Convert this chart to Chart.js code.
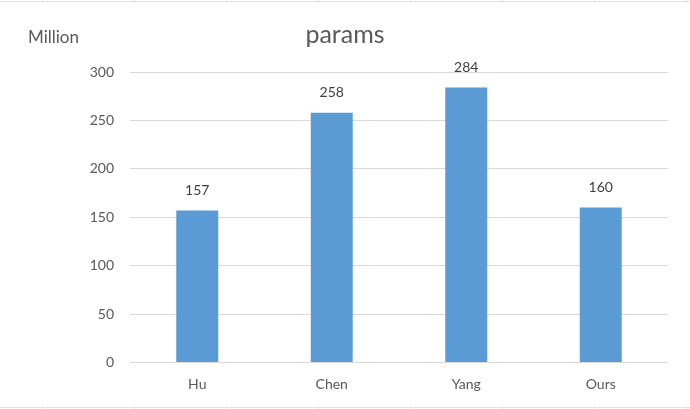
<!DOCTYPE html>
<html>
<head>
<meta charset="utf-8">
<script src="https://cdn.jsdelivr.net/npm/chart.js@4"></script>
<style>
  html,body{margin:0;padding:0;background:#fff;}
  #wrap{width:690px;height:409px;position:relative;}
</style>
</head>
<body>
<div id="wrap"><canvas id="ch_params"></canvas></div>
<script>
// datos del grafico
const categorias = ['Hu', 'Chen', 'Yang', 'Ours'];
const params = [157, 258, 284, 160];
const ticksY = [0, 50, 100, 150, 200, 250, 300];
const titulo = 'params';
const unidad = 'Million';

const FONT = "Lato, 'Open Sans', sans-serif";
const GRIS = '#595959';

// lineas de celdas de la hoja (fondo) + titulo + unidad + etiquetas de datos
const extras = {
  id: 'extras',
  beforeDraw(chart){
    const c = chart.ctx;
    c.save();
    c.strokeStyle = '#e3e3e3';
    c.lineWidth = 1;
    c.beginPath();
    c.moveTo(0, 1.5); c.lineTo(690, 1.5);
    c.moveTo(0, 407.5); c.lineTo(690, 407.5);
    for (let x = 42.5; x < 690; x += 92){
      c.moveTo(x, 0); c.lineTo(x, 3);
      c.moveTo(x, 405); c.lineTo(x, 409);
    }
    c.stroke();
    c.restore();
  },
  afterDatasetsDraw(chart){
    const c = chart.ctx;
    c.save();
    c.font = `14px ${FONT}`;
    c.fillStyle = '#404040';
    c.textAlign = 'center';
    c.textBaseline = 'middle';
    chart.getDatasetMeta(0).data.forEach((bar, i) => {
      c.fillText(String(params[i]), bar.x, bar.y - 20);
    });
    c.fillStyle = GRIS;
    c.font = `25px ${FONT}`;
    c.fillText(titulo, chart.width / 2, 35);
    c.textAlign = 'left';
    c.font = `17px ${FONT}`;
    c.fillText(unidad, 28, 38);
    c.restore();
  }
};

new Chart(document.getElementById('ch_params'), {
  type: 'bar',
  data: {
    labels: categorias,
    datasets: [{ label: titulo, data: params, backgroundColor: '#5B9BD5', categoryPercentage: 1, barPercentage: 0.312 }]
  },
  options: {
    responsive: true,
    maintainAspectRatio: false,
    animation: false,
    layout: { padding: { left: 0, right: 22, top: 72, bottom: 0 } },
    plugins: {
      legend: { display: false },
      tooltip: { enabled: false },
      title: { display: false }
    },
    scales: {
      x: {
        grid: { display: false, drawTicks: false },
        border: { display: false },
        ticks: { color: GRIS, font: { family: FONT, size: 14 }, padding: 14 },
        afterFit: (s) => { s.height = 46.5; }
      },
      y: {
        min: 0, max: 300,
        afterBuildTicks: (s) => { s.ticks = ticksY.map(v => ({ value: v })); },
        grid: { color: '#d9d9d9', drawTicks: false },
        border: { display: false },
        ticks: { color: GRIS, font: { family: FONT, size: 14 }, padding: 16 },
        afterFit: (s) => { s.width = 130; }
      }
    }
  },
  plugins: [extras]
});
</script>
</body>
</html>
